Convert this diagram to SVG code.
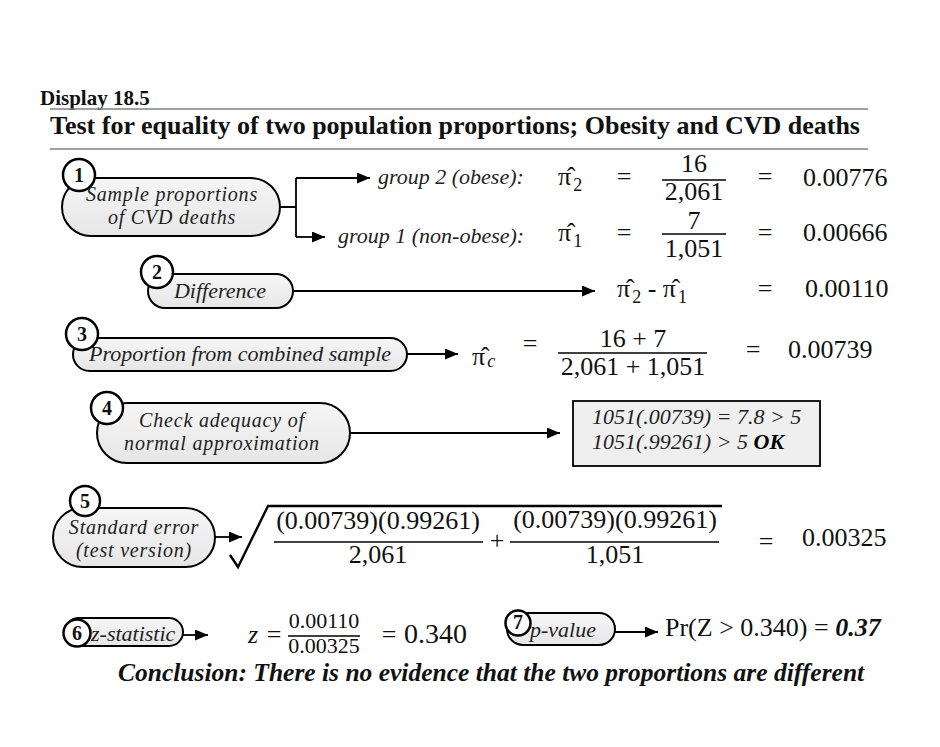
<svg xmlns="http://www.w3.org/2000/svg" width="940" height="747" viewBox="0 0 940 747">
<defs>
<marker id="ah" markerUnits="userSpaceOnUse" markerWidth="13" markerHeight="11" refX="13" refY="5.5" orient="auto"><path d="M0,0 L13,5.5 L0,11 z" fill="#000"/></marker>
<linearGradient id="pg" x1="0" y1="0" x2="0" y2="1"><stop offset="0" stop-color="#f6f6f6"/><stop offset="1" stop-color="#e6e6e6"/></linearGradient>
</defs>
<style>
text{font-family:"Liberation Serif","Times New Roman",serif;fill:#111}
.pill{fill:url(#pg);stroke:#000;stroke-width:2}
.num{fill:#fff;stroke:#000;stroke-width:2.5}
.nt{font-weight:bold;font-size:20px;text-anchor:middle}
.lbl{font-style:italic;font-size:22px;text-anchor:middle;fill:#222}
.lbl2{font-style:italic;font-size:20px;letter-spacing:0.8px;text-anchor:middle;fill:#222}
.sm{font-style:italic;font-size:22px;fill:#222}
.m{font-size:26px}
.mc{font-size:26px;text-anchor:middle}
.sub{font-size:18px}
.conn{stroke:#000;stroke-width:1.8;fill:none}
.fl{stroke:#000;stroke-width:1.6}
.rule{stroke:#808080;stroke-width:1.6}
</style>
<rect width="940" height="747" fill="#fff"/>
<text x="40" y="105" style="font-weight:bold;font-size:21px">Display 18.5</text>
<line class="rule" x1="50" y1="109" x2="868" y2="109"/>
<text x="50" y="134" style="font-weight:bold;font-size:26px">Test for equality of two population proportions; Obesity and CVD deaths</text>
<line class="rule" x1="50" y1="149" x2="868" y2="149"/>

<g id="connectors">
<path class="conn" d="M280,207 H296 M296,178 V237"/>
<path class="conn" d="M296,178 H370" marker-end="url(#ah)"/>
<path class="conn" d="M296,237 H325" marker-end="url(#ah)"/>
<path class="conn" d="M293,291 H595" marker-end="url(#ah)"/>
<path class="conn" d="M407,354 H458" marker-end="url(#ah)"/>
<path class="conn" d="M350,433 H560" marker-end="url(#ah)"/>
<path class="conn" d="M215,537 H242" marker-end="url(#ah)"/>
<path class="conn" d="M183,635 H208" marker-end="url(#ah)"/>
<path class="conn" d="M615,632 H658" marker-end="url(#ah)"/>
</g>

<g id="node1">
<rect class="pill" x="62" y="178" width="218" height="58" rx="29"/>
<circle class="num" cx="79" cy="175" r="16"/>
<text class="nt" x="79" y="182">1</text>
<text class="lbl2" x="172" y="201">Sample proportions</text>
<text class="lbl2" x="172" y="224">of CVD deaths</text>
</g>
<g id="group2">
<text class="sm" x="378" y="184">group 2 (obese):</text>
<text class="m" x="558" y="185">π̂<tspan class="sub" dx="2" dy="6">2</tspan></text>
<text class="mc" x="624" y="185">=</text>
<text class="mc" x="694" y="172">16</text>
<line class="fl" x1="662" y1="180" x2="726" y2="180"/>
<text class="mc" x="694" y="200">2,061</text>
<text class="mc" x="765" y="185">=</text>
<text class="m" x="803" y="186">0.00776</text>
</g>
<g id="group1">
<text class="sm" x="338" y="243">group 1 (non-obese):</text>
<text class="m" x="558" y="241">π̂<tspan class="sub" dx="2" dy="6">1</tspan></text>
<text class="mc" x="624" y="241">=</text>
<text class="mc" x="694" y="229">7</text>
<line class="fl" x1="662" y1="234" x2="726" y2="234"/>
<text class="mc" x="694" y="257">1,051</text>
<text class="mc" x="765" y="241">=</text>
<text class="m" x="803" y="241">0.00666</text>
</g>

<g id="node2">
<rect class="pill" x="148" y="274" width="145" height="34" rx="17"/>
<circle class="num" cx="157" cy="272" r="16"/>
<text class="nt" x="157" y="279">2</text>
<text class="lbl" x="220" y="298">Difference</text>
</g>
<g id="diff">
<text class="m" x="617" y="297">π̂<tspan class="sub" dx="2" dy="6">2</tspan><tspan dy="-6"> - π̂</tspan><tspan class="sub" dx="2" dy="6">1</tspan></text>
<text class="mc" x="765" y="297">=</text>
<text class="m" x="805" y="297">0.00110</text>
</g>

<g id="node3">
<rect class="pill" x="73" y="338" width="334" height="33" rx="16.5"/>
<circle class="num" cx="82" cy="334" r="16"/>
<text class="nt" x="82" y="341">3</text>
<text class="lbl" x="240" y="361">Proportion from combined sample</text>
</g>
<g id="combined">
<text class="m" x="472" y="365">π̂<tspan class="sub" dx="2" dy="2" font-style="italic">c</tspan></text>
<text class="mc" x="530" y="352">=</text>
<text class="mc" x="633" y="347">16 + 7</text>
<line class="fl" x1="558" y1="353" x2="707" y2="353"/>
<text class="mc" x="633" y="375">2,061 + 1,051</text>
<text class="mc" x="753" y="358">=</text>
<text class="m" x="788" y="358">0.00739</text>
</g>

<g id="node4">
<rect class="pill" x="97" y="403" width="253" height="60" rx="30"/>
<circle class="num" cx="107" cy="408" r="16"/>
<text class="nt" x="107" y="415">4</text>
<text class="lbl2" x="222" y="427">Check adequacy of</text>
<text class="lbl2" x="222" y="450">normal approximation</text>
</g>
<g id="check">
<rect x="573" y="401" width="247" height="65" fill="#efefef" stroke="#000" stroke-width="1.8"/>
<text class="sm" x="592" y="424">1051(.00739) = 7.8 &gt; 5</text>
<text class="sm" x="592" y="449">1051(.99261) &gt; 5 <tspan font-weight="bold" fill="#000">OK</tspan></text>
</g>

<g id="node5">
<rect class="pill" x="53" y="508" width="162" height="59" rx="29.5"/>
<circle class="num" cx="85" cy="501" r="15"/>
<text class="nt" x="85" y="508">5</text>
<text class="lbl2" x="134" y="534">Standard error</text>
<text class="lbl2" x="134" y="557">(test version)</text>
</g>
<g id="stderr">
<path d="M230,555 L238,567 L268,506 H722" fill="none" stroke="#000" stroke-width="2.4"/>
<text class="mc" x="378" y="529">(0.00739)(0.99261)</text>
<line class="fl" x1="274" y1="542" x2="483" y2="542"/>
<text class="mc" x="378" y="563">2,061</text>
<text class="mc" x="497" y="549">+</text>
<text class="mc" x="615" y="528">(0.00739)(0.99261)</text>
<line class="fl" x1="510" y1="542" x2="719" y2="542"/>
<text class="mc" x="615" y="563">1,051</text>
<text class="mc" x="766" y="550">=</text>
<text class="m" x="802" y="546">0.00325</text>
</g>

<g id="node6">
<rect class="pill" x="65" y="618" width="118" height="28" rx="14"/>
<circle class="num" cx="77" cy="633" r="13.5"/>
<text class="nt" x="77" y="640">6</text>
<text class="sm" x="91" y="641">z-statistic</text>
</g>
<g id="zstat">
<text class="m" x="248" y="643" font-style="italic">z</text>
<text class="mc" x="274" y="643">=</text>
<text x="324" y="628" style="font-size:22px;text-anchor:middle">0.00110</text>
<line class="fl" x1="288" y1="636" x2="360" y2="636"/>
<text x="324" y="653" style="font-size:22px;text-anchor:middle">0.00325</text>
<text class="mc" x="389" y="643">=</text>
<text x="404" y="643" style="font-size:28px">0.340</text>
</g>

<g id="node7">
<rect class="pill" x="507" y="613" width="108" height="32" rx="16"/>
<circle class="num" cx="518" cy="623" r="12.5"/>
<text class="nt" x="518" y="629">7</text>
<text class="sm" x="530" y="637">p-value</text>
</g>
<g id="pvalue">
<text class="m" x="665" y="636">Pr(Z &gt; 0.340) = <tspan font-weight="bold" font-style="italic">0.37</tspan></text>
</g>

<text x="118" y="681" style="font-weight:bold;font-style:italic;font-size:25.5px">Conclusion: There is no evidence that the two proportions are different</text>
</svg>
